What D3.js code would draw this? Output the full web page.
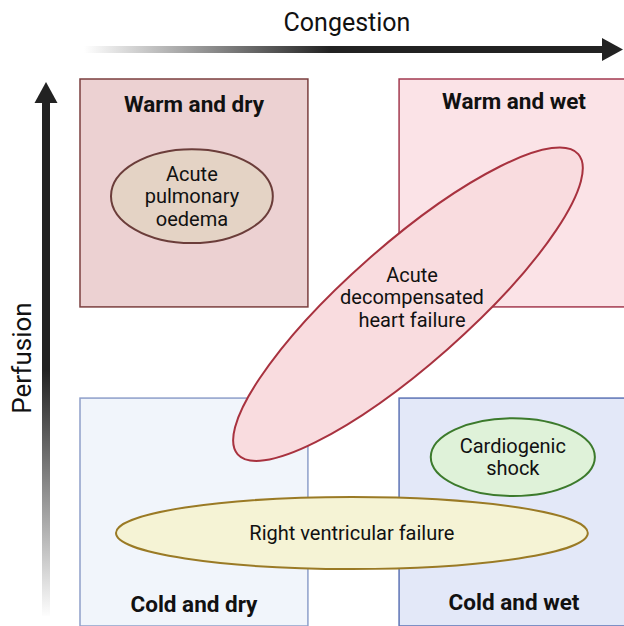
<!DOCTYPE html>
<html lang="en">
<head>
    <meta charset="UTF-8">
    <script src="https://d3js.org/d3.v7.min.js"></script>
    <title>Heart failure profiles</title>
    <style>
        body { margin: 0; background: #fff; }
        text { font-family: Roboto, "Noto Sans", sans-serif; fill: #111; }
    </style>
</head>
<body>
    <svg id="chart" width="624" height="626"></svg>

    <script>
        // quadrant boxes, in diagram units (congestion, perfusion)
        var quadrants = ["Warm and dry", "Warm and wet", "Cold and dry", "Cold and wet"];
        var quadX = [0, 140, 0, 140];
        var quadY = [140, 140, 0, 0];
        var quadSize = 100;

        // clinical presentations (ellipses)
        var states = ["Acute decompensated heart failure", "Acute pulmonary oedema", "Right ventricular failure", "Cardiogenic shock"];
        var stateLines = [
            ["Acute", "decompensated", "heart failure"],
            ["Acute", "pulmonary", "oedema"],
            ["Right ventricular failure"],
            ["Cardiogenic", "shock"]
        ];
        var stateCx = [143.9, 49.1, 119.3, 189.9];
        var stateCy = [141.2, 188.6, 40.8, 74.1];
        var stateRx = [99.6, 35.5, 103.5, 36];
        var stateRy = [26.3, 20.6, 15.8, 17.1];
        var stateAngle = [41.4, 0, 0, 0];

        var svg = d3.select("#chart");

        var x = d3.scaleLinear().domain([0, 240]).range([80, 627]);
        var y = d3.scaleLinear().domain([0, 240]).range([626, 79]);
        var k = x(1) - x(0);

        var quadFill = { "Warm and dry": "#ecd1d2", "Warm and wet": "#fbe3e7", "Cold and dry": "#f1f5fb", "Cold and wet": "#e3e8f8" };
        var quadStroke = { "Warm and dry": "#7b3f3f", "Warm and wet": "#a33a50", "Cold and dry": "#8e9fc9", "Cold and wet": "#5d73b5" };
        var stateFill = { "Acute decompensated heart failure": "#f9dcdf", "Acute pulmonary oedema": "#e4d3c5", "Right ventricular failure": "#f5f3d5", "Cardiogenic shock": "#dff2d9" };
        var stateStroke = { "Acute decompensated heart failure": "#a8323f", "Acute pulmonary oedema": "#6b3d3a", "Right ventricular failure": "#9a7a25", "Cardiogenic shock": "#3c7a2c" };

        // gradients for the axis arrows
        var defs = svg.append("defs");
        var gh = defs.append("linearGradient").attr("id", "gradH")
            .attr("gradientUnits", "userSpaceOnUse")
            .attr("x1", 84).attr("x2", 330).attr("y1", 0).attr("y2", 0);
        gh.append("stop").attr("offset", 0).attr("stop-color", "#ffffff");
        gh.append("stop").attr("offset", 1).attr("stop-color", "#222222");
        var gv = defs.append("linearGradient").attr("id", "gradV")
            .attr("gradientUnits", "userSpaceOnUse")
            .attr("x1", 0).attr("x2", 0).attr("y1", 618).attr("y2", 370);
        gv.append("stop").attr("offset", 0).attr("stop-color", "#ffffff");
        gv.append("stop").attr("offset", 1).attr("stop-color", "#222222");

        // horizontal arrow (congestion)
        svg.append("rect")
            .attr("x", 84).attr("y", 46)
            .attr("width", 520).attr("height", 7)
            .attr("fill", "url(#gradH)");
        svg.append("path")
            .attr("d", "M602,38 L623,49.5 L602,61 Z")
            .attr("fill", "#222");
        svg.append("text")
            .attr("x", 347).attr("y", 31)
            .attr("text-anchor", "middle")
            .style("font-size", "25px")
            .text("Congestion");

        // vertical arrow (perfusion)
        svg.append("rect")
            .attr("x", 42).attr("y", 100)
            .attr("width", 8).attr("height", 516)
            .attr("fill", "url(#gradV)");
        svg.append("path")
            .attr("d", "M34.5,103 L46,82 L57.5,103 Z")
            .attr("fill", "#222");
        svg.append("text")
            .attr("transform", "translate(31,358) rotate(-90)")
            .attr("text-anchor", "middle")
            .style("font-size", "26px")
            .text("Perfusion");

        // quadrant boxes
        var boxes = svg.append("g").selectAll("g")
            .data(quadrants)
            .enter()
            .append("g");

        boxes.append("rect")
            .attr("x", function (d, i) { return x(quadX[i]); })
            .attr("y", function (d, i) { return y(quadY[i] + quadSize); })
            .attr("width", quadSize * k)
            .attr("height", quadSize * k)
            .attr("fill", function (d) { return quadFill[d]; })
            .attr("stroke", function (d) { return quadStroke[d]; })
            .attr("stroke-width", 1.5);

        // titles sit near the outer edge of each box
        var titleShift = [33, 30, -14, -16];
        boxes.append("text")
            .attr("x", function (d, i) { return x(quadX[i] + quadSize / 2) + (i % 2 ? 1 : 0); })
            .attr("y", function (d, i) { return (i < 2 ? y(quadY[i] + quadSize) : y(quadY[i])) + titleShift[i]; })
            .attr("text-anchor", "middle")
            .style("font-size", "22.5px")
            .style("font-weight", "bold")
            .text(function (d) { return d; });

        // presentation ellipses
        var shapes = svg.append("g").selectAll("g")
            .data(states)
            .enter()
            .append("g")
            .attr("transform", function (d, i) {
                return "translate(" + x(stateCx[i]) + "," + y(stateCy[i]) + ")";
            });

        shapes.append("ellipse")
            .attr("rx", function (d, i) { return stateRx[i] * k; })
            .attr("ry", function (d, i) { return stateRy[i] * k; })
            .attr("transform", function (d, i) { return "rotate(" + (-stateAngle[i]) + ")"; })
            .attr("fill", function (d) { return stateFill[d]; })
            .attr("stroke", function (d) { return stateStroke[d]; })
            .attr("stroke-width", 2);

        shapes.each(function (d, i) {
            var lines = stateLines[i];
            var lh = 22.5;
            var dx = i === 0 ? 4 : 0;
            var dy = i === 0 ? -7 : 0;
            var t = d3.select(this).append("text")
                .attr("text-anchor", "middle")
                .style("font-size", "20px");
            lines.forEach(function (line, j) {
                t.append("tspan")
                    .attr("x", dx)
                    .attr("y", (j - (lines.length - 1) / 2) * lh + 7 + dy)
                    .text(line);
            });
        });
    </script>
</body>
</html>
